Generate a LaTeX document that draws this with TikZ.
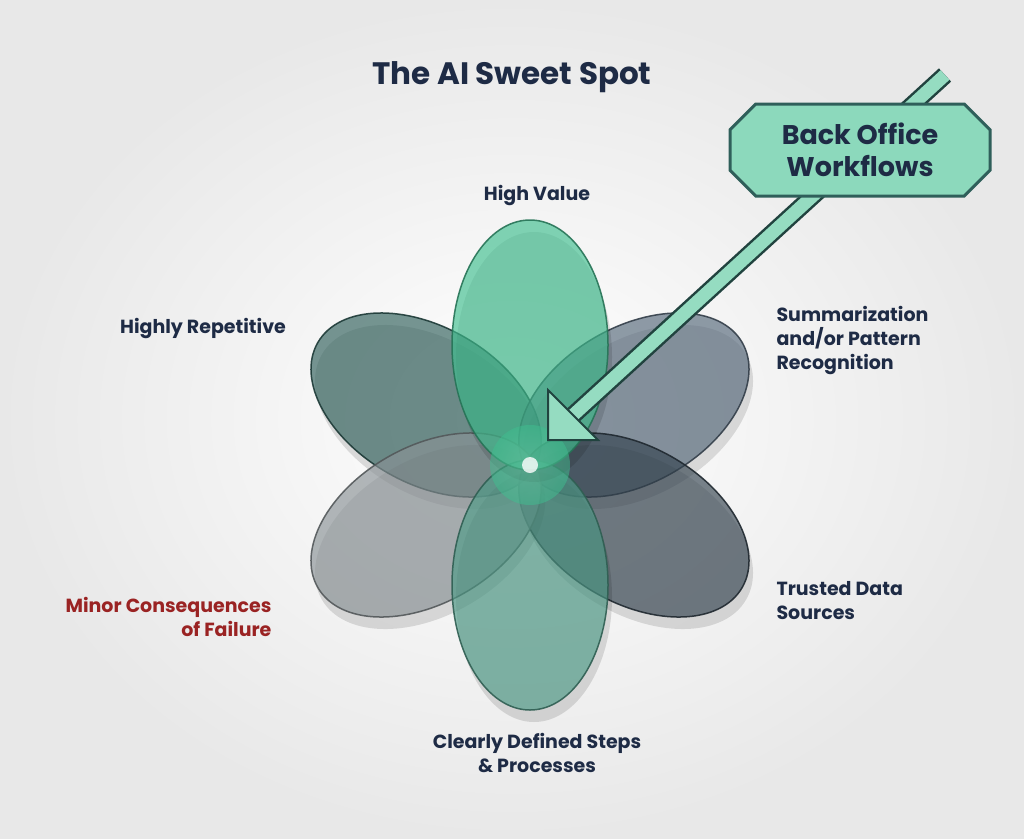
\documentclass[tikz,border=0pt]{standalone}
\usepackage{fontspec}
\setmainfont{Poppins}
\usetikzlibrary{shapes.geometric,shapes.misc,arrows.meta,shadings,calc}
\definecolor{ink}{HTML}{1E2B45}
\definecolor{redt}{HTML}{9A2323}
\definecolor{gr}{HTML}{3FBF8F}
\definecolor{teal}{HTML}{2F5F5A}
\definecolor{slate}{HTML}{55687A}
\definecolor{dslate}{HTML}{34434F}
\definecolor{gry}{HTML}{8A9296}
\definecolor{gteal}{HTML}{4E9C88}
\tikzset{
 lbl/.style={text=ink,font=\fontsize{19}{24}\selectfont\bfseries},
 petal/.style={draw=#1!60!black,line width=1.5pt,fill=#1,fill opacity=0.65,draw opacity=0.9},
}
\begin{document}
\begin{tikzpicture}[x=1pt,y=-1pt]
\useasboundingbox (0,0) rectangle (1024,838);
\shade[inner color=white,outer color=gray!18] (0,0) rectangle (1024,838);
\coordinate (c) at (530,465);
% petals
\foreach \a/\col in {150/teal,30/slate,-30/dslate,210/gry,270/gteal,90/gr}{
  \fill[black,opacity=0.12] ($(c)+({cos(\a)*120+4},{-sin(\a)*120+12})$) ellipse [x radius=78,y radius=125,rotate=-90+\a];
  \draw[petal=\col] ($(c)+({cos(\a)*120},{-sin(\a)*120})$) ellipse [x radius=78,y radius=125,rotate=-90+\a];
}
\shade[inner color=gr!80!white,outer color=gr,opacity=0.5] (c) circle (40);
\fill[white,opacity=0.8] (c) circle (8);
% arrow
\coordinate (tip) at (548,440);
\coordinate (tail) at (945,75);
\draw[line width=18pt,teal!70!black] (tail) -- ($(tip)+(22,-22)$);
\draw[line width=13pt,gr!55] (tail) -- ($(tip)+(22,-22)$);
\draw[teal!70!black,line width=2pt,fill=gr!55] (tip) -- ++(0,-50) -- ++(50,50) -- cycle;
% badge
\node[draw=teal,line width=3pt,fill=gr!60,chamfered rectangle,chamfered rectangle xsep=22pt,minimum width=260,minimum height=92,align=center,text=ink,font=\fontsize{27}{32}\selectfont\bfseries] (badge) at (860,150) {Back Office\\Workflows};
% texts
\node[text=ink,font=\fontsize{31}{36}\selectfont\bfseries] (title) at (512,77) {The AI Sweet Spot};
\node[lbl] (hv) at (537,195) {High Value};
\node[lbl] (hr) at (203,328) {Highly Repetitive};
\node[lbl,align=left,anchor=west] (sp) at (773,340) {Summarization\\and/or Pattern\\Recognition};
\node[lbl,align=left,anchor=west] (td) at (773,601) {Trusted Data\\Sources};
\node[lbl,text=redt,align=right,anchor=east] (mc) at (275,617) {Minor Consequences\\of Failure};
\node[lbl,align=center] (cd) at (537,753) {Clearly Defined Steps\\\& Processes};
\end{tikzpicture}
\end{document}
